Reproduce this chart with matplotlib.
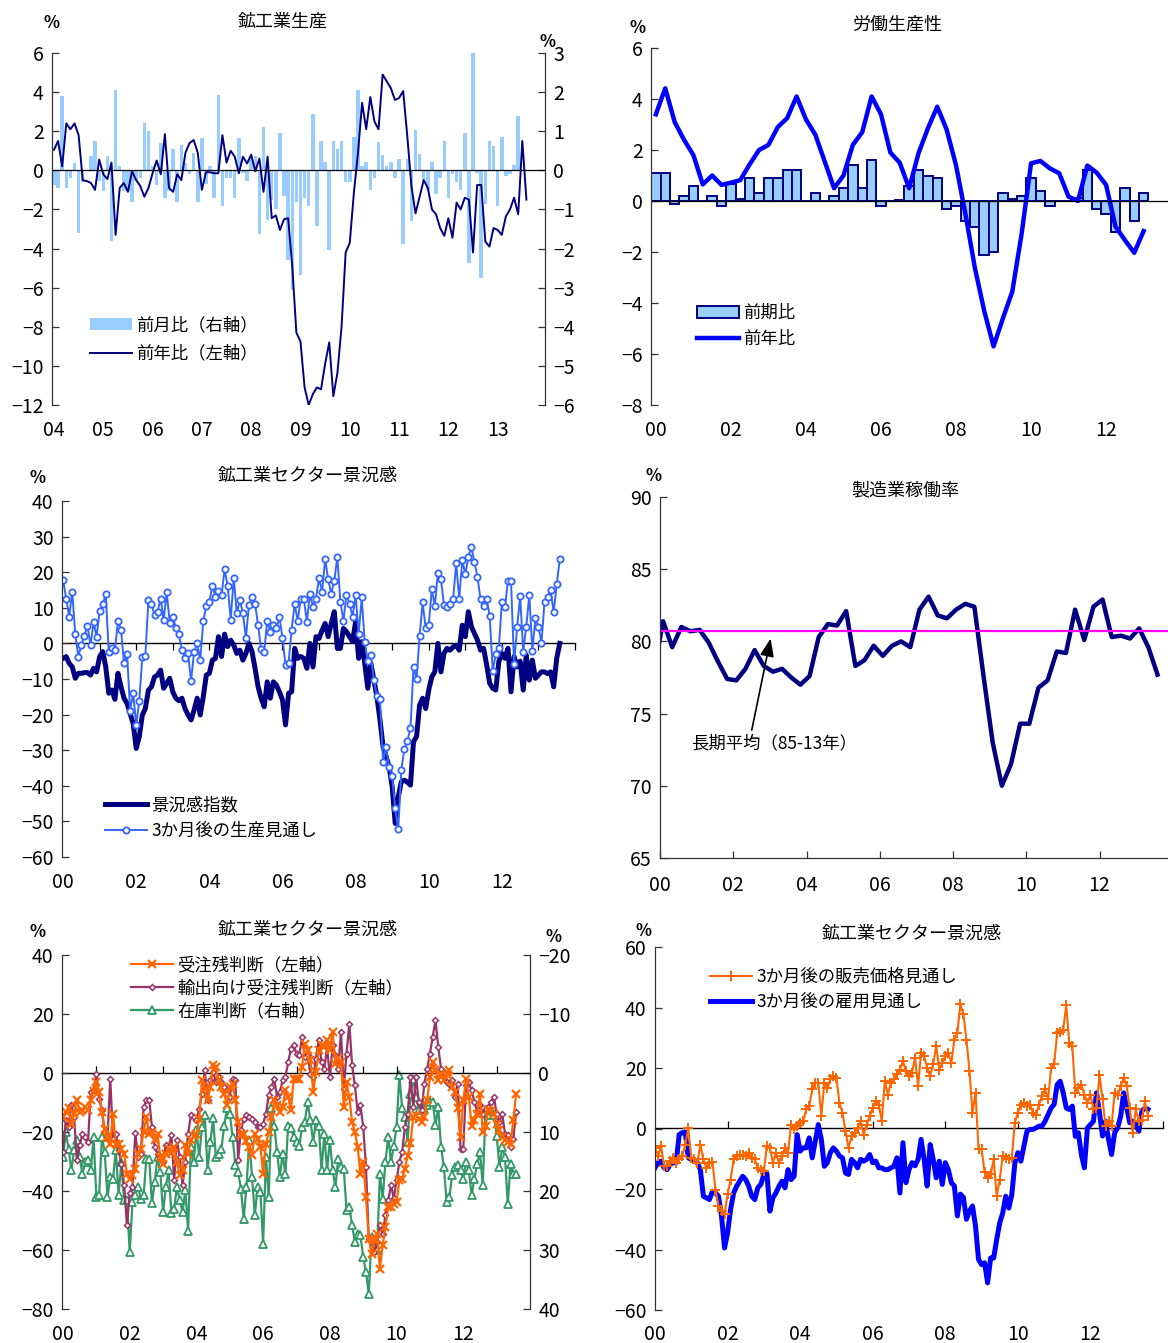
import numpy as np
import matplotlib
matplotlib.use("Agg")
import matplotlib.pyplot as plt
from matplotlib.patches import Patch
from matplotlib.lines import Line2D

plt.rcParams['font.family'] = ['Noto Sans CJK JP', 'DejaVu Sans']
NUM_FONT = ['Liberation Sans Narrow', 'Noto Sans CJK JP', 'DejaVu Sans']

NAVY = '#000080'
LIGHT_BLUE = '#99CCFF'
BLUE = '#0000FF'
MID_BLUE = '#3366FF'
ORANGE = '#FF6600'
PURPLE = '#993366'
GREEN = '#339966'
MAGENTA = '#FF00FF'

# ---- 鉱工業生産 (monthly from 2004/01) ----
ip_yoy = [1.05, 1.5, 0.2, 2.4, 2.1, 2.4, 1.8, -0.5, -0.55, -0.65,
          -1.0, 0.55, -0.2, -0.45, 0.4, -3.3, -0.9, -0.65, -1.1, -0.05,
          -0.5, -0.8, -1.35, -0.9, -0.15, 0.5, -0.2, 1.85, -0.9, -1.1,
          -0.2, -0.5, 0.9, 1.4, 1.55, 0.9, -1.0, -0.1, -0.1, -0.15,
          -0.15, 1.8, 0.4, 1.0, 0.7, -0.15, 0.7, 0.35, 0.8, -0.05,
          0.6, -1.1, 0.7, -2.45, -2.3, -3.05, -2.5, -2.45, -4.9, -8.3,
          -8.75, -11.1, -12.0, -11.45, -11.1, -11.2, -9.9, -8.8, -11.55, -10.35,
          -8.0, -4.2, -3.7, -1.15, 0.9, 3.45, 2.1, 3.75, 2.5, 2.1,
          4.9, 4.55, 4.2, 3.6, 3.7, 4.05, 1.75, -0.8, -2.2, -1.35,
          -0.5, -0.9, -2.0, -2.25, -2.95, -3.35, -2.45, -3.45, -1.65, -2.0,
          -1.4, -1.5, -4.2, -0.75, -0.75, -3.65, -3.9, -2.95, -3.05, -3.3,
          -2.35, -2.0, -1.4, -2.25, 1.5, -1.5]
ip_mom = [-0.37, -0.45, 1.9, -0.45, -0.2, 0.19, -1.6, -0.3, 0.0, 0.37,
          0.74, -0.28, -0.54, 0.37, -1.8, 2.05, 0.1, -0.54, -0.54, -0.8,
          -0.28, -0.2, 1.2, 1.0, 0.1, -0.37, 0.7, -0.7, -0.54, 0.55,
          -0.8, 0.65, 0.19, -0.09, 0.44, -0.8, 0.83, -0.34, 0.1, -0.7,
          1.92, -0.9, -0.2, -0.2, -0.7, 0.83, -0.07, -0.28, 0.36, 0.37,
          -1.63, 1.1, -1.26, -0.75, -1.0, 0.95, -0.66, -2.28, -3.05, -0.8,
          -2.67, -0.72, -0.9, 1.45, -1.43, 0.74, 0.21, -2.03, 0.74, 0.55,
          0.74, -0.31, -0.3, 0.84, 2.06, 0.1, 0.21, -0.51, -0.2, 0.72,
          0.4, 0.1, 0.21, -0.2, 0.29, -1.88, 0.3, -1.3, 1.04, 0.42,
          -0.28, -0.51, 0.21, -0.6, -0.2, 0.74, -0.7, -0.09, -0.31, -0.51,
          0.95, -2.37, 3.0, -0.07, -2.75, -0.85, 0.74, 0.63, -0.92, 0.85,
          -0.15, -0.09, 0.13, 1.38]

# ---- 労働生産性 (quarterly from 2000Q1) ----
lp_qoq = [1.09, 1.09, -0.1, 0.2, 0.6, 0.0, 0.2, -0.2, 0.65, 0.08,
          0.9, 0.3, 0.9, 0.9, 1.2, 1.2, 0.0, 0.3, 0.0, 0.2,
          0.5, 1.4, 0.5, 1.6, -0.2, 0.0, 0.05, 0.6, 1.2, 1.0,
          0.9, -0.3, -0.2, -0.8, -1.0, -2.1, -2.0, 0.3, 0.08, 0.2,
          0.9, 0.4, -0.2, 0.0, 0.0, 0.1, 1.2, -0.3, -0.5, -1.2,
          0.5, -0.8, 0.3]
lp_yoy = [3.4, 4.42, 3.1, 2.4, 1.8, 0.65, 1.0, 0.63, 0.72, 0.82,
          1.44, 2.0, 2.2, 2.9, 3.25, 4.1, 3.2, 2.6, 1.55, 0.5,
          1.0, 2.2, 2.7, 4.1, 3.4, 1.9, 1.5, 0.5, 1.87, 2.85,
          3.7, 2.8, 1.4, -0.5, -2.6, -4.3, -5.7, -4.6, -3.55, -1.27,
          1.48, 1.57, 1.28, 1.09, 0.17, 0.0, 1.39, 1.11, 0.63, -1.0,
          -1.53, -2.03, -1.18]

# ---- 鉱工業セクター景況感 (monthly from 2000/01) ----
conf_index = [-4.2, -3.7, -5.6, -6.6, -9.8, -8.4, -8.4, -8.2, -8.2, -8.9,
              -7.0, -8.0, -3.7, -2.3, -6.6, -14.0, -13.1, -15.7, -8.4, -12.2,
              -15.4, -16.9, -19.7, -22.5, -29.5, -26.2, -20.1, -18.3, -13.1, -12.2,
              -9.4, -8.9, -7.5, -12.6, -11.2, -9.8, -13.6, -15.4, -16.1, -15.4,
              -18.3, -20.1, -21.5, -18.7, -15.4, -20.1, -15.0, -8.9, -8.4, -4.7,
              -4.2, 1.9, -3.7, 2.6, -0.9, 0.9, -0.5, -2.8, -1.9, -4.7,
              -2.8, 0.0, -2.3, -7.0, -12.2, -15.4, -17.8, -10.8, -15.4, -10.8,
              -11.7, -13.6, -15.9, -22.9, -14.0, -13.6, -1.4, -4.2, -3.7, -4.2,
              -7.0, 0.0, -6.6, 1.9,
              1.4, 3.7, 5.6, 1.9, 5.6, 8.9, -1.4, -1.4, 4.2, 3.3,
              1.9, 0.5, 6.1, -4.2, 0.5, -5.6, -12.6, -5.6, -10.3, -15.0,
              -21.5, -29.0, -31.8, -34.6, -40.3, -50.6, -43.1, -38.9, -38.4, -39.0,
              -39.8, -27.6, -26.2, -17.3, -15.4, -18.3, -13.1, -9.4, -8.0, 0.0,
              -8.0, -2.8, -1.4, -1.9, -1.0, -0.5, -1.9, 5.1, 1.9, 8.9,
              4.7, 2.8, 0.9, -1.9, -1.4, -6.0, -11.2, -12.6, -13.1, -5.1,
              -2.8, -4.2, -1.4, -13.6, -3.7, -6.6, -5.0, -13.1, -3.3, -10.3,
              -4.7, -9.8, -8.9, -8.0, -8.0, -8.5, -8.0, -12.2, -4.2, 0.0]
prod_outlook = [17.8, 12.6, 7.5, 14.5, 2.6, -3.7, -0.5, 2.2, 4.9, -0.5,
                5.9, 1.9, 9.1, 11.0, 13.8, -2.5, -1.4, -1.9, 6.3, 3.9,
                -5.6, -3.0, -18.9, -14.0, -22.9, -16.1, -3.7, -3.6, 12.2, 11.0,
                8.1, 8.9, 12.6, 6.6, 14.3, 5.8, 7.5, 4.4, 2.6, -1.9,
                -4.2, -2.8, -10.5, -2.3, 0.0, -4.7, 6.3, 10.6, 11.7, 16.2,
                13.1, 14.7, 13.5, 20.8, 16.2, 6.7, 18.5, 8.4, 12.2, 8.6,
                1.6, 10.8, 13.1, 11.0, 5.1, -1.7, -2.3, 6.4, 3.3, 5.1,
                4.2, 7.5, 1.6, -6.1, -5.4, 3.9, 11.0, 6.4, 12.5, 12.5,
                6.1, 13.9, 10.3, 12.6, 18.3, 14.5, 23.6,
                18.0, 13.9, 17.6, 24.3, 11.7, 6.4, 13.6, 11.2, 7.5, 13.6,
                2.6, 12.9, 0.3, -5.0, -3.3, -10.3, -14.8, -15.7, -33.2, -29.2,
                -34.8, -37.3, -46.3, -52.2, -35.6, -29.6, -27.3, -23.9, -6.6, -10.1,
                2.1, 11.5, 4.2, 5.1, 15.2, 10.5, 19.9, 18.0, 10.8, 10.3,
                11.0, 12.4, 22.5, 12.4, 23.4, 19.5, 24.3, 27.0, 22.9, 18.7,
                12.4, 10.5, 12.5, 7.8, -7.7, -3.0, -1.4, 11.7, 10.1, 17.5,
                17.5, -5.8, 4.5, 13.3, -2.3, 4.7, 13.5, -2.1, 7.0, 4.7,
                0.2, 11.7, 13.1, 15.0, 8.7, 16.6, 23.6]

# ---- 製造業稼働率 (quarterly from 1999Q4) ----
capacity_util = [77.9, 81.4, 79.6, 81.0, 80.7, 80.8, 79.9, 78.6, 77.4, 77.3,
                 78.1, 79.4, 78.3, 77.9, 78.1, 77.5, 77.0, 77.6, 80.3, 81.2,
                 81.1, 82.1, 78.3, 78.7, 79.7, 79.0, 79.7, 80.0, 79.6, 82.2,
                 83.1, 81.8, 81.6, 82.2, 82.6, 82.4, 77.6, 73.0, 70.0, 71.5,
                 74.3, 74.3, 76.8, 77.3, 79.3, 79.2, 82.2, 80.1, 82.4, 82.9,
                 80.3, 80.4, 80.2, 80.9, 79.6, 77.7]
capacity_avg = 80.7

# ---- 受注残・在庫判断 (monthly from 2000/01) ----
order_backlog = [-14.9, -13.2, -12.0, -17.2, -13.8, -9.0, -13.2, -12.7, -11.5, -12.7,
                 -9.3, -6.0, -3.1, -6.4, -13.2, -18.9, -21.7, -24.0, -13.8, -24.0,
                 -24.0, -25.6, -27.3, -34.1, -35.8, -34.7, -32.4, -27.3, -25.6, -20.0,
                 -14.9, -20.6, -20.0, -22.8, -20.6, -28.5, -30.7, -27.3, -25.6, -27.0,
                 -25.1, -30.2, -34.7, -33.0, -24.5, -27.3, -22.8, -21.5, -20.6, -15.5,
                 -2.5, -5.3, -9.3, -4.7, 2.6, 2.0, -2.5, -4.7, -7.0, -11.0,
                 -4.7, -3.6, -9.3, -16.6, -21.1, -20.6, -23.0, -25.1, -27.9, -20.6,
                 -22.3, -25.1, -34.1, -24.0, -20.0, -14.9, -9.3, -11.0, -13.2, -11.5,
                 -5.9, -8.0, -12.7, -1.9, -1.9, -1.9, 2.0, 9.9, 7.7, 4.3,
                 -6.4, 0.3,
                 7.7, 9.5, 8.8, 11.1, 7.7, 13.9, 3.2, 5.0, 3.7, -11.5,
                 -3.1, -8.1, -16.6, -20.0, -25.1, -34.1, -30.2, -42.0, -56.2, -61.2,
                 -56.7, -54.5, -66.3, -58.4, -52.2, -45.4, -45.4, -44.5, -43.7, -36.4,
                 -35.8, -32.4, -28.0, -23.7, -14.9, -14.4, -15.5, -16.6, -14.9, -9.3,
                 -1.4, 3.7, 1.0, -2.5, -0.2, -2.5, -0.2, 0.9, -4.7, -6.4,
                 -12.0, -21.7, -9.3, -1.9, -8.1, -18.1, -16.0, -13.8, -7.0, -20.0,
                 -18.1, -12.7, -13.0, -13.8, -17.2, -19.4, -21.7, -22.8, -23.5, -24.0,
                 -16.0, -7.0]
export_backlog = [-26.8, -16.0, -18.3, -11.0, -14.9, -29.6, -24.5, -20.6, -21.7, -23.4,
                  -6.4, -5.9, -0.2, -8.7, -12.7, -20.0, -21.7, -1.9, -22.3, -20.6,
                  -26.2, -30.7, -38.1, -51.6, -40.7, -38.6, -20.3, -28.5, -27.3, -11.5,
                  -9.3, -9.0, -18.3, -25.1, -27.3, -28.5, -30.2, -24.5, -25.1, -21.1,
                  -36.4, -22.8, -28.5, -38.1, -30.2, -20.6, -14.4, -14.9, -16.0, -12.1,
                  -7.0, 0.9, -9.3, -2.5, 0.3, -3.1, -1.4, -3.1, -4.7, -7.0,
                  -8.1, -1.9, -2.5, -29.6, -19.4, -15.5, -14.4, -14.9, -15.5, -16.6,
                  -18.3, -18.3, -17.2, -13.8, -7.6, -4.7, -1.9, -8.1, -6.4, -2.5,
                  -1.4, 3.7, 8.2, 9.4, 6.6, 6.0, 12.2, 5.4, 6.0, -0.2,
                  -1.4, 4.9, 11.3,
                  3.7, 1.5, 8.8, -1.4, 9.4, 6.0, 1.5, 13.9, -5.3, 6.6,
                  16.7, 2.6, -4.2, -13.2, -11.0, -18.3, -31.9, -56.2, -56.7, -60.7,
                  -57.3, -51.6, -54.5, -48.2, -43.2, -38.1, -42.5, -36.4, -30.2, -26.8,
                  -18.3, -13.8, -1.4, -11.5, -1.4, -9.8, -12.7, -3.6, 1.5, 6.6,
                  12.2, 17.9, 8.8, 1.5, 0.3, -3.1, -3.6, -2.5, -8.1, -3.6,
                  -25.6, -25.6, -4.2, -3.1, -5.9, -9.8, -13.2, -11.0, -13.8, -12.1,
                  -11.5, -9.8, -8.1, -13.8, -16.6, -13.8, -20.6, -21.1, -25.1, -22.3,
                  -13.2]
inventory = [14.2, 10.0, 12.8, 16.5, 13.1, 11.4, 14.2, 17.1, 15.1, 14.8,
             16.5, 10.8, 21.0, 20.7, 10.8, 13.4, 21.0, 17.6, 17.9, 13.1,
             20.7, 15.1, 21.6, 21.6, 30.3, 21.9, 20.7, 19.3, 21.3, 20.7,
             14.5, 14.5, 22.1, 18.5, 14.2, 16.8, 23.6, 19.3, 16.5, 23.8,
             23.0, 19.3, 21.6, 23.6, 19.9, 26.7, 12.5, 15.1, 9.7, 14.2,
             9.2, 7.2, 16.5, 11.7, 7.7, 14.2, 13.7, 12.8, 8.9, 6.0,
             6.9, 10.8, 15.6, 16.8, 19.6, 24.7, 19.3, 11.4, 17.6, 24.1,
             19.3, 20.2, 28.9, 14.2, 21.0, 6.0, 8.9, 13.4, 17.6, 13.7,
             17.1, 8.9, 9.4, 10.8, 11.7, 12.3, 9.2, 8.3, 4.9, 8.0,
             11.7, 8.0, 8.9,
             16.5, 10.3, 16.5, 11.4, 16.5, 19.3, 14.5, 15.9, 16.2, 23.3,
             22.7, 25.8, 28.6, 27.3, 27.5, 31.2, 33.7, 37.4, 27.8, 28.4,
             30.0, 17.1, 21.3, 15.1, 10.8, 15.1, 12.3, 9.2, 0.4, 6.0,
             7.5, 11.7, 3.5, 1.0, 4.1, 6.3, 5.2, 6.1, 5.5, 4.9,
             4.9, 8.8, 5.8, 12.5, 15.9, 21.8, 21.0, 17.3, 15.9, 15.6,
             16.5, 17.9, 15.1, 16.5, 20.7, 17.9, 15.4, 13.4, 19.0, 6.3,
             7.2, 6.3, 7.2, 10.6, 15.9, 12.5, 14.2, 22.2, 15.4, 17.1,
             17.1]

# ---- 販売価格・雇用見通し (monthly from 2000/01) ----
price_outlook = [-6.4, -9.1, -5.8, -12.5, -12.5, -10.8, -9.7, -11.3, -10.2, -9.1,
                 -5.6, 0.2, -9.7, -10.2, -11.3, -5.3, -10.2, -13.0, -11.3, -11.1,
                 -20.2, -25.7, -27.3, -28.4, -21.8, -16.9, -10.2, -9.1, -8.6, -8.9,
                 -9.1, -8.0, -9.7, -10.2, -13.0, -13.6, -14.1, -5.8, -6.4, -11.3,
                 -8.0, -11.3, -9.1, -6.4, -8.0, 1.3, -0.3, 0.8, 1.9, 2.4,
                 6.3, 7.4, 12.9, 15.1, 15.1, 4.1, 15.1, 13.4, 16.2, 17.3,
                 16.7, 8.5, 5.2, -0.9, -6.4, -2.5, -1.4, 0.2, 2.4, -2.0,
                 1.3, 4.1, 6.8, 9.0, 7.9, 2.4, 15.6, 11.2, 15.1, 16.2,
                 17.9, 19.5, 22.3, 19.0, 17.3,
                 18.4, 23.4, 14.0, 25.0, 23.9, 20.1, 17.3, 21.2, 27.4, 19.5,
                 21.7, 23.9, 25.0, 21.7, 29.4, 31.6, 41.0, 37.7, 29.4, 19.0,
                 5.2, 11.8, -6.9, -6.9, -14.4, -16.3, -15.2, -10.2, -22.4, -16.9,
                 -9.1, -9.7, -10.2, -9.7, 1.9, 5.2, 7.9, 8.5, 7.4, 7.9,
                 5.2, 4.6, 7.9, 10.7, 12.9, 9.6, 20.1, 21.2, 31.6, 31.8,
                 32.7, 40.7, 28.3, 27.2, 11.8, 13.4, 14.5, 11.2, 8.5, 11.2,
                 6.3, 6.8, 17.6, 9.6, 0.8, 2.4, 0.8, 11.8, 11.2, 14.0,
                 16.7, 14.0, 6.8, -1.4, 6.3, 2.4, 2.9, 9.0, 4.1]
employ_outlook = [-13.0, -11.3, -10.8, -13.0, -13.6, -11.9, -11.3, -11.3, -2.0, -1.4,
                  -1.2, -9.7, -10.2, -10.8, -11.3, -13.6, -22.4, -22.9, -23.5, -20.7,
                  -21.3, -22.4, -29.0, -39.5, -34.5, -26.8, -21.3, -19.1, -17.4, -15.8,
                  -16.9, -19.1, -22.4, -23.5, -19.6, -18.5, -15.2, -14.7, -27.3, -22.9,
                  -21.3, -19.1, -17.4, -19.6, -13.6, -16.9, -15.8, -2.0, -7.5, -6.4,
                  -6.4, -3.1, -9.7, -4.2, 1.3, -3.6, -12.5, -11.3, -8.0, -6.4,
                  -7.5, -9.1, -9.7, -14.7, -15.2, -10.2, -11.3, -13.0, -10.2, -10.8,
                  -10.2, -8.6, -11.3, -10.8, -13.0, -13.0, -13.6, -13.6, -13.0, -12.5,
                  -9.7,
                  -21.3, -4.7, -17.9, -13.6, -11.3, -12.3, -10.2, -3.6, -10.2, -19.0,
                  -5.3, -10.2, -16.3, -10.8, -18.5, -11.3, -13.6, -17.9, -19.0, -28.9,
                  -21.7, -22.8, -30.0, -27.3, -25.6, -32.3, -43.3, -45.0, -44.4, -51.0,
                  -42.8, -42.8, -36.7, -31.2, -27.9, -22.4, -26.3, -21.9, -11.5, -8.0,
                  -10.8, -5.8, -0.9, -0.3, -0.3, 0.2, 0.8, 0.8, 2.4, 4.6,
                  6.8, 8.0, 14.5, 15.6, 11.8, 6.8, 6.3, 7.4, -2.6, -1.4,
                  -8.6, -13.0, 0.2, 1.3, 2.4, 11.8, 5.2, -2.5, 2.4, -3.6,
                  -8.6, -1.4, 0.2, 4.1, 11.8, 6.8, 1.9, 2.4, 1.3, -0.9,
                  5.7, 6.8, 6.3]


def monthly(start_year, values):
    return start_year + np.arange(len(values)) / 12.0


W, H = 1168, 1343
fig = plt.figure(figsize=(W / 100, H / 100), dpi=100)


def add_axes(left, top, right, bottom):
    return fig.add_axes([left / W, 1 - bottom / H, (right - left) / W, (bottom - top) / H])


def fig_pt(x, y):
    return (x / W, 1 - y / H)


def style(ax, xlim, ylim, yticks, xticks, xlabels, xpad, bottom_spine=False):
    ax.set_xlim(*xlim)
    ax.set_ylim(*ylim)
    ax.set_yticks(yticks)
    ax.set_xticks(xticks)
    ax.set_xticklabels(xlabels)
    ax.spines['top'].set_visible(False)
    ax.spines['right'].set_visible(False)
    ax.spines['bottom'].set_visible(bottom_spine)
    for s in ('left', 'bottom'):
        ax.spines[s].set_color('#333333')
        ax.spines[s].set_linewidth(0.9)
    ax.tick_params(axis='y', direction='in', length=5, width=0.9, pad=6,
                   labelsize=14, color='#333333')
    if bottom_spine:
        ax.tick_params(axis='x', direction='in', length=5, width=0.9, pad=xpad,
                       labelsize=14, color='#333333')
    else:
        ax.tick_params(axis='x', length=0, pad=xpad, labelsize=14)
    for lbl in ax.get_xticklabels() + ax.get_yticklabels():
        lbl.set_family(NUM_FONT)


def zero_axis(ax, ticks, ylim, direction):
    # zero line drawn as a secondary x axis so it can carry its own year ticks
    frac = (0 - ylim[0]) / (ylim[1] - ylim[0])
    sec = ax.secondary_xaxis(frac)
    sec.set_xticks(ticks)
    sec.tick_params(direction=direction, length=5, width=0.9, color='black',
                    labelbottom=False, labeltop=False)
    for s in sec.spines.values():
        s.set_color('black')
        s.set_linewidth(1.0)
    return sec


def title(x, y, text):
    fig.text(x / W, 1 - y / H, text, ha='center', va='center', fontsize=13)


def pct(x, y):
    fig.text(x / W, 1 - y / H, '%', ha='center', va='center', fontsize=12,
             fontweight='bold')


def legend(ax, handles, labels, x, y, spacing):
    ax.legend(handles, labels, loc='upper left', bbox_to_anchor=fig_pt(x, y),
              bbox_transform=fig.transFigure, frameon=False, fontsize=12.5,
              handlelength=2.4, handletextpad=0.25, labelspacing=spacing,
              borderpad=0, borderaxespad=0)


# ================= 鉱工業生産 =================
ax1 = add_axes(52, 53, 545, 405)
ax1r = ax1.twinx()
ax1.set_zorder(ax1r.get_zorder() + 1)
ax1.patch.set_visible(False)

x1 = monthly(2004, ip_yoy)
xb1 = monthly(2004, ip_mom)
ax1r.bar(xb1, ip_mom, width=0.85 / 12, color=LIGHT_BLUE, linewidth=0)
ax1.plot(x1, ip_yoy, color=NAVY, lw=1.4)
ax1.axhline(0, color='black', lw=0.9)

years1 = np.arange(2004, 2014)
style(ax1, (2003.96, 2013.96), (-12, 6), np.arange(-12, 7, 2), years1,
      ['%02d' % (y % 100) for y in years1], 11)
ax1r.set_ylim(-6, 3)
ax1r.set_yticks(np.arange(-6, 4, 1))
for s in ('top', 'bottom', 'left'):
    ax1r.spines[s].set_visible(False)
ax1r.spines['right'].set_color('#333333')
ax1r.spines['right'].set_linewidth(0.9)
ax1r.tick_params(axis='y', direction='in', length=5, width=0.9, pad=6,
                 labelsize=14, color='#333333')
for lbl in ax1r.get_yticklabels():
    lbl.set_family(NUM_FONT)

legend(ax1, [Patch(facecolor=LIGHT_BLUE, edgecolor='none'),
             Line2D([], [], color=NAVY, lw=1.4)],
       ['前月比（右軸）', '前年比（左軸）'], 90, 316, 0.62)
title(283, 22, '鉱工業生産')
pct(52, 23)
pct(547, 42)

# ================= 労働生産性 =================
ax2 = add_axes(651, 48, 1168, 405)
x2 = 2000 + np.arange(len(lp_qoq)) * 0.25
ax2.bar(x2, lp_qoq, width=0.25, color=LIGHT_BLUE, edgecolor=NAVY, linewidth=1.4)
ax2.plot(2000 + np.arange(len(lp_yoy)) * 0.25, lp_yoy, color=BLUE, lw=3.2)
ax2.axhline(0, color='black', lw=0.9)
years2 = np.arange(2000, 2013, 2)
style(ax2, (1999.87, 2013.65), (-8, 6), np.arange(-8, 7, 2), years2,
      ['%02d' % (y % 100) for y in years2], 11)
legend(ax2, [Patch(facecolor=LIGHT_BLUE, edgecolor=NAVY, linewidth=1.4),
             Line2D([], [], color=BLUE, lw=3.2)],
       ['前期比', '前年比'], 697, 304, 0.45)
title(897, 25, '労働生産性')
pct(638, 28)

# ================= 鉱工業セクター景況感 (景況感指数) =================
ax3 = add_axes(62, 501, 575, 857)
ax3.plot(monthly(2000, conf_index), conf_index, color=NAVY, lw=3.6,
         solid_joinstyle='round')
ax3.plot(monthly(2000, prod_outlook), prod_outlook, color=MID_BLUE, lw=1.4,
         marker='o', markersize=4.5, markerfacecolor='white',
         markeredgecolor=MID_BLUE, markeredgewidth=1.3)
years3 = np.arange(2000, 2013, 2)
style(ax3, (1999.97, 2014.0), (-60, 40), np.arange(-60, 41, 10), years3,
      ['%02d' % (y % 100) for y in years3], 11)
zero_axis(ax3, np.arange(2001, 2015), (-60, 40), 'in')
legend(ax3, [Line2D([], [], color=NAVY, lw=3.6),
             Line2D([], [], color=MID_BLUE, lw=1.4, marker='o', markersize=4.5,
                    markerfacecolor='white', markeredgecolor=MID_BLUE,
                    markeredgewidth=1.3)],
       ['景況感指数', '3か月後の生産見通し'], 105, 796, 0.45)
title(308, 476, '鉱工業セクター景況感')
pct(37, 478)

# ================= 製造業稼働率 =================
ax4 = add_axes(660, 497, 1168, 858)
x4 = 1999.75 + np.arange(len(capacity_util)) * 0.25 + 1 / 12
ax4.plot(x4, capacity_util, color=NAVY, lw=3.2, solid_joinstyle='round')
ax4.axhline(capacity_avg, color=MAGENTA, lw=1.6)
years4 = np.arange(2000, 2013, 2)
style(ax4, (2000.0, 2013.87), (65, 90), np.arange(65, 91, 5), years4,
      ['%02d' % (y % 100) for y in years4], 12, bottom_spine=True)
ax4.annotate('長期平均（85-13年）', xy=(2003.02, 80.2), xytext=(2000.85, 72.95),
             ha='left', va='center', fontsize=12.5,
             arrowprops=dict(arrowstyle='-|>,head_length=0.9,head_width=0.35',
                             color='black', lw=1.2, relpos=(0.36, 1.0),
                             shrinkA=1, shrinkB=0, mutation_scale=12))
title(905, 490, '製造業稼働率')
pct(654, 476)

# ================= 鉱工業セクター景況感 (受注残・在庫) =================
ax5 = add_axes(62, 955, 530, 1309)
ax5r = ax5.twinx()
ax5.set_zorder(ax5r.get_zorder() + 1)
ax5.patch.set_visible(False)

ax5r.plot(monthly(2000, inventory), inventory, color=GREEN, lw=1.6,
          marker='^', markersize=5.5, markerfacecolor='white',
          markeredgecolor=GREEN, markeredgewidth=1.3)
ax5.plot(monthly(2000, export_backlog), export_backlog, color=PURPLE, lw=1.6,
         marker='D', markersize=3, markerfacecolor='white',
         markeredgecolor=PURPLE, markeredgewidth=1.1)
ax5.plot(monthly(2000, order_backlog), order_backlog, color=ORANGE, lw=1.6,
         marker='x', markersize=6, markeredgewidth=1.6)
years5 = np.arange(2000, 2013, 2)
style(ax5, (1999.97, 2014.0), (-80, 40), np.arange(-80, 41, 20), years5,
      ['%02d' % (y % 100) for y in years5], 11)
zero_axis(ax5, np.arange(2001, 2014), (-80, 40), 'out')
ax5r.set_ylim(40, -20)
ax5r.set_yticks(np.arange(-20, 41, 10))
for s in ('top', 'bottom', 'left'):
    ax5r.spines[s].set_visible(False)
ax5r.spines['right'].set_color('#333333')
ax5r.spines['right'].set_linewidth(0.9)
ax5r.tick_params(axis='y', direction='in', length=5, width=0.9, pad=6,
                 labelsize=14, color='#333333')
for lbl in ax5r.get_yticklabels():
    lbl.set_family(NUM_FONT)

legend(ax5, [Line2D([], [], color=ORANGE, lw=1.6, marker='x', markersize=6,
                    markeredgewidth=1.6),
             Line2D([], [], color=PURPLE, lw=1.6, marker='D', markersize=3,
                    markerfacecolor='white', markeredgecolor=PURPLE,
                    markeredgewidth=1.1),
             Line2D([], [], color=GREEN, lw=1.6, marker='^', markersize=5.5,
                    markerfacecolor='white', markeredgecolor=GREEN,
                    markeredgewidth=1.3)],
       ['受注残判断（左軸）', '輸出向け受注残判断（左軸）', '在庫判断（右軸）'],
       131, 956, 0.3)
title(308, 930, '鉱工業セクター景況感')
pct(37, 932)
pct(554, 937)

# ================= 鉱工業セクター景況感 (販売価格・雇用) =================
ax6 = add_axes(655, 947, 1163, 1310)
ax6.plot(monthly(2000, employ_outlook), employ_outlook, color=BLUE, lw=3.6,
         solid_joinstyle='round')
ax6.plot(monthly(2000, price_outlook), price_outlook, color=ORANGE, lw=1.5,
         marker='+', markersize=7, markeredgewidth=1.4)
years6 = np.arange(2000, 2013, 2)
style(ax6, (2000.0, 2014.0), (-60, 60), np.arange(-60, 61, 20), years6,
      ['%02d' % (y % 100) for y in years6], 10)
zero_axis(ax6, np.arange(2002, 2015, 2), (-60, 60), 'out')
legend(ax6, [Line2D([], [], color=ORANGE, lw=1.5, marker='+', markersize=7,
                    markeredgewidth=1.4),
             Line2D([], [], color=BLUE, lw=3.6)],
       ['3か月後の販売価格見通し', '3か月後の雇用見通し'], 710, 968, 0.4)
title(912, 934, '鉱工業セクター景況感')
pct(644, 931)

fig.savefig('out.png', dpi=100)
